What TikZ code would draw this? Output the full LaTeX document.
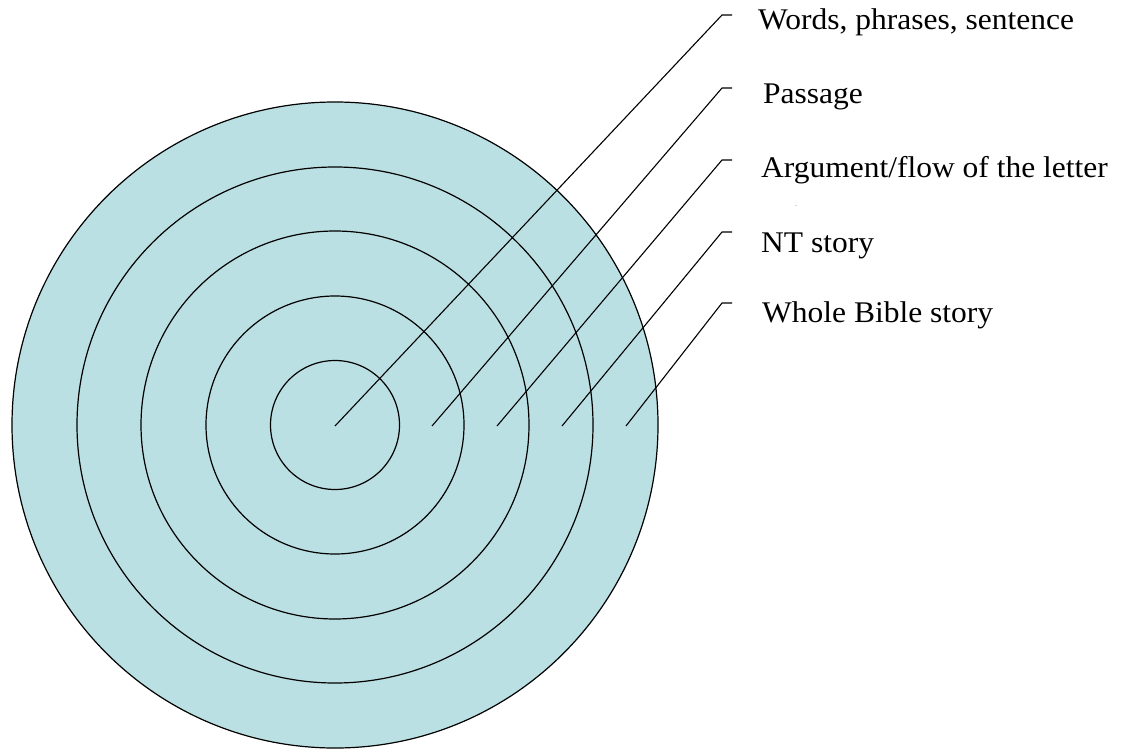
\documentclass[tikz,border=0pt]{standalone}
\usepackage{fontspec}
\setmainfont{Liberation Serif}
\definecolor{ringfill}{RGB}{187,224,227}
\begin{document}
\begin{tikzpicture}[x=1pt,y=-1pt,
  ring/.style={draw=black,line width=1.2pt},
  leader/.style={draw=black,line width=1.1pt},
  lbl/.style={anchor=base west,inner sep=0pt,font=\fontsize{30}{36}\selectfont,xscale=1.05}]
\useasboundingbox (0,0) rectangle (1131,749);
\coordinate (c) at (335,425);
\filldraw[ring,fill=ringfill] (c) circle (323);
\draw[ring] (c) circle (258);
\draw[ring] (c) circle (194);
\draw[ring] (c) circle (129);
\draw[ring] (c) circle (64.5);
% leader start points
\coordinate (s1) at (335,426);
\coordinate (s2) at (432,426);
\coordinate (s3) at (497,426);
\coordinate (s4) at (562,426);
\coordinate (s5) at (626,426);
% bends
\coordinate (b1) at (722,15);
\coordinate (b2) at (722,88);
\coordinate (b3) at (722,160);
\coordinate (b4) at (722,232);
\coordinate (b5) at (722,303);
\coordinate (e1) at (732,15);
\coordinate (e2) at (732,88);
\coordinate (e3) at (732,160);
\coordinate (e4) at (732,232);
\coordinate (e5) at (732,303);
\draw[leader] (s1) -- (b1) -- (e1);
\draw[leader] (s2) -- (b2) -- (e2);
\draw[leader] (s3) -- (b3) -- (e3);
\draw[leader] (s4) -- (b4) -- (e4);
\draw[leader] (s5) -- (b5) -- (e5);
\node[lbl] (t1) at (758,30) {Words, phrases, sentence};
\node[lbl] (t2) at (763,103) {Passage};
\node[lbl] (t3) at (761,177) {Argument/flow of the letter};
\node[lbl] (t4) at (761,252) {NT story};
\node[lbl] (t5) at (762,322) {Whole Bible story};
\node[inner sep=0pt,font=\fontsize{6}{6}\selectfont,anchor=base] (dot) at (796,206) {.};
\end{tikzpicture}
\end{document}
